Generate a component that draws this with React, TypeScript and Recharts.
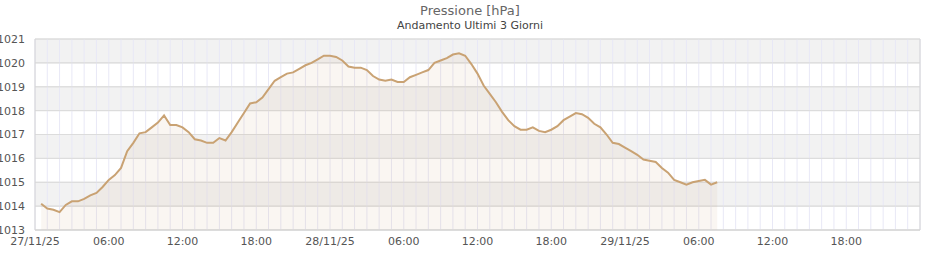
import React from 'react';
import {
  ComposedChart,
  Area,
  XAxis,
  YAxis,
  CartesianGrid,
} from 'recharts';

// pressure readings every 30 min, starting at 00:30 of the first day
const startHour = 0.5;
const stepHours = 0.5;
const pressure = [
  1014.1, 1013.9, 1013.85, 1013.75, 1014.05, 1014.2, 1014.2, 1014.3, 1014.45, 1014.55,
  1014.8, 1015.1, 1015.3, 1015.6, 1016.3, 1016.65, 1017.05, 1017.1, 1017.3, 1017.5,
  1017.8, 1017.4, 1017.4, 1017.3, 1017.1, 1016.8, 1016.75, 1016.65, 1016.65, 1016.85,
  1016.75, 1017.1, 1017.5, 1017.9, 1018.3, 1018.35, 1018.55, 1018.9, 1019.25, 1019.4,
  1019.55, 1019.6, 1019.75, 1019.9, 1020.0, 1020.15, 1020.3, 1020.3, 1020.25, 1020.1,
  1019.85, 1019.8, 1019.8, 1019.7, 1019.45, 1019.3, 1019.25, 1019.3, 1019.2, 1019.2,
  1019.4, 1019.5, 1019.6, 1019.7, 1020.0, 1020.1, 1020.2, 1020.35, 1020.4, 1020.3,
  1019.95, 1019.55, 1019.05, 1018.7, 1018.35, 1017.95, 1017.6, 1017.35, 1017.2, 1017.2,
  1017.3, 1017.15, 1017.1, 1017.2, 1017.35, 1017.6, 1017.75, 1017.9, 1017.85, 1017.7,
  1017.45, 1017.3, 1017.0, 1016.65, 1016.6, 1016.45, 1016.3, 1016.15, 1015.95, 1015.9,
  1015.85, 1015.6, 1015.4, 1015.1, 1015.0, 1014.9, 1015.0, 1015.05, 1015.1, 1014.9,
  1015.0,
];

const dayLabels = ['27/11/25', '28/11/25', '29/11/25'];
const hourTicks = [
  0, 1, 2, 3, 4, 5, 6, 7, 8, 9, 10, 11, 12, 13, 14, 15, 16, 17, 18, 19, 20, 21, 22, 23,
  24, 25, 26, 27, 28, 29, 30, 31, 32, 33, 34, 35, 36, 37, 38, 39, 40, 41, 42, 43, 44, 45, 46, 47,
  48, 49, 50, 51, 52, 53, 54, 55, 56, 57, 58, 59, 60, 61, 62, 63, 64, 65, 66, 67, 68, 69, 70, 71, 72,
];
const yTicks = [1013, 1014, 1015, 1016, 1017, 1018, 1019, 1020, 1021];

const data = pressure.map((p, i) => ({ t: startHour + i * stepHours, p }));

const fmtHour = (h: number) => {
  if (h % 6 !== 0 || h >= 72) return '';
  if (h % 24 === 0) return dayLabels[h / 24];
  const hh = h % 24;
  return `${hh < 10 ? '0' : ''}${hh}:00`;
};

const font = '"DejaVu Sans", sans-serif';
const tickStyle = { fontSize: 11, fill: '#555', fontFamily: font };

export default function App() {
  return (
    <div style={{ position: 'absolute', left: 0, top: 0, width: 940, height: 260, fontFamily: font }}>
      <div style={{ position: 'absolute', top: 3, width: 940, textAlign: 'center', fontSize: 13, color: '#666' }}>
        Pressione [hPa]
      </div>
      <div style={{ position: 'absolute', top: 19, width: 940, textAlign: 'center', fontSize: 11, color: '#444' }}>
        Andamento Ultimi 3 Giorni
      </div>
      <ComposedChart
        width={940}
        height={260}
        data={data}
        margin={{ top: 39, right: 0, bottom: 0, left: 0 }}
      >
        {/* alternating bands first, then hourly lines, then the grey value lines */}
        <CartesianGrid
          stroke="#dcdcdc"
          horizontal={true}
          vertical={false}
          horizontalFill={['#f2f2f2', '#ffffff']}
        />
        <CartesianGrid stroke="#e8e8f6" horizontal={false} vertical={true} />
        <CartesianGrid stroke="#dcdcdc" horizontal={true} vertical={false} />
        <XAxis
          dataKey="t"
          type="number"
          domain={[0, 72]}
          ticks={hourTicks}
          interval={0}
          tickFormatter={fmtHour}
          tick={tickStyle}
          tickLine={false}
          tickSize={0}
          tickMargin={7}
          axisLine={{ stroke: '#d4d4d4' }}
          height={30}
        />
        <YAxis
          domain={[1013, 1021]}
          ticks={yTicks}
          interval={0}
          tick={tickStyle}
          tickLine={false}
          tickSize={0}
          tickMargin={10}
          axisLine={{ stroke: '#d4d4d4' }}
          width={35}
        />
        <YAxis
          yAxisId="right"
          orientation="right"
          domain={[1013, 1021]}
          tick={false}
          tickLine={false}
          axisLine={{ stroke: '#d4d4d4' }}
          width={20}
        />
        <Area
          type="linear"
          dataKey="p"
          stroke="#c9a273"
          strokeWidth={2}
          fill="#c8a072"
          fillOpacity={0.09}
          dot={false}
          activeDot={false}
          isAnimationActive={false}
        />
      </ComposedChart>
    </div>
  );
}
